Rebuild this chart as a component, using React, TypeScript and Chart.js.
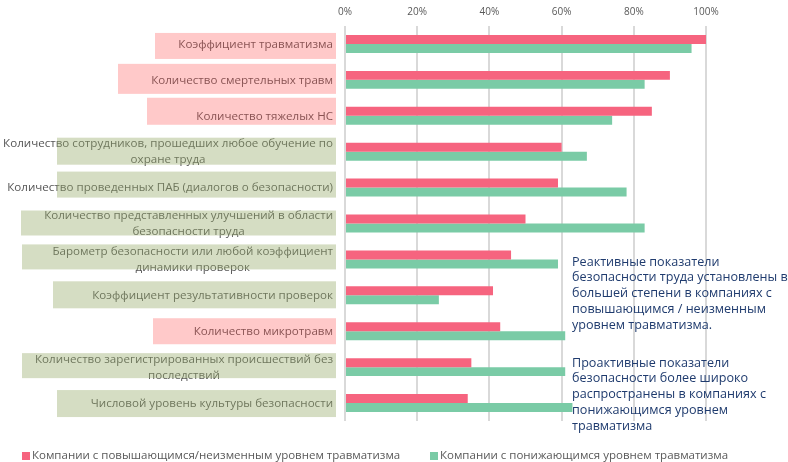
import React, { useEffect, useRef } from "react";
import { Chart, registerables } from "chart.js";

Chart.register(...registerables);

const categories: string[][] = [
  ["Коэффициент травматизма"],
  ["Количество смертельных травм"],
  ["Количество тяжелых НС"],
  ["Количество сотрудников, прошедших любое обучение по", "охране труда"],
  ["Количество проведенных ПАБ (диалогов о безопасности)"],
  ["Количество представленных улучшений в области", "безопасности труда"],
  ["Барометр безопасности или любой коэффициент", "динамики проверок"],
  ["Коэффициент результативности проверок"],
  ["Количество микротравм"],
  ["Количество зарегистрированных происшествий без", "последствий"],
  ["Числовой уровень культуры безопасности"],
];

// "reactive" (pink) vs "proactive" (green) indicator groups
const categoryGroup: string[] = [
  "reactive", "reactive", "reactive", "proactive", "proactive", "proactive",
  "proactive", "proactive", "reactive", "proactive", "proactive",
];

const seriesNames: string[] = [
  "Компании с повышающимся/неизменным уровнем травматизма",
  "Компании с понижающимся уровнем травматизма",
];

const increasingValues: number[] = [100, 90, 85, 60, 59, 50, 46, 41, 43, 35, 34];
const decreasingValues: number[] = [96, 83, 74, 67, 78, 83, 59, 26, 61, 61, 63];

const xTicks: number[] = [0, 20, 40, 60, 80, 100];

const noteReactive: string[] = [
  "Реактивные показатели",
  "безопасности труда установлены в",
  "большей степени в компаниях с",
  "повышающимся / неизменным",
  "уровнем травматизма.",
];
const noteProactive: string[] = [
  "Проактивные показатели",
  "безопасности более широко",
  "распространены в компаниях с",
  "понижающимся уровнем",
  "травматизма",
];

// styling: label box [left edge, top offset from row centre, height]
const labelBoxStyle: number[][] = [
  [155, -11, 26], [118, -16, 30], [147, -18, 27], [57, -14, 27],
  [57, -16, 26], [21, -13, 25], [22, -15, 25], [53, -14, 27],
  [153, -13, 26], [22, -14, 25], [57, -13, 27],
];

const RED = "#F6647F";
const GREEN = "#7ACBA6";
const FONT = "'Open Sans', 'Noto Sans', sans-serif";

const overlayPlugin = {
  id: "overlayPlugin",
  afterDraw(chart: any) {
    const ctx = chart.ctx as CanvasRenderingContext2D;
    const y = chart.scales.y;
    ctx.save();
    // category labels with translucent boxes on top
    ctx.font = `11.6px ${FONT}`;
    ctx.textBaseline = "middle";
    ctx.textAlign = "center";
    const rightEdge = 333;
    categories.forEach((lines, i) => {
      const c = y.getPixelForValue(i);
      const w = Math.max(...lines.map((l) => ctx.measureText(l).width));
      const cx = rightEdge - w / 2;
      const lh = 16;
      const start = c + 0.5 - ((lines.length - 1) * lh) / 2;
      ctx.fillStyle = "#555555";
      lines.forEach((l, k) => ctx.fillText(l, cx, start + k * lh));
      const [bl, bt, bh] = labelBoxStyle[i];
      ctx.fillStyle =
        categoryGroup[i] === "reactive"
          ? "rgba(255,80,80,0.31)"
          : "rgba(150,170,105,0.4)";
      ctx.fillRect(bl, c + bt, 336 - bl, bh);
    });

    // notes
    ctx.font = `12.6px ${FONT}`;
    ctx.textAlign = "left";
    ctx.fillStyle = "#1F3B6E";
    noteReactive.forEach((l, k) => ctx.fillText(l, 572, 262 + k * 15.9));
    noteProactive.forEach((l, k) => ctx.fillText(l, 572, 363 + k * 15.9));

    // legend
    ctx.font = `11.5px ${FONT}`;
    const legendX = [22, 430];
    const colors = [RED, GREEN];
    seriesNames.forEach((n, k) => {
      ctx.fillStyle = colors[k];
      ctx.fillRect(legendX[k], 452, 8, 8);
      ctx.fillStyle = "#595959";
      ctx.fillText(n, legendX[k] + 10, 456);
    });
    ctx.restore();
  },
};

export default function App() {
  const ref = useRef<HTMLCanvasElement | null>(null);
  useEffect(() => {
    if (!ref.current) return;
    const chart = new Chart(ref.current, {
      type: "bar",
      data: {
        labels: categories.map((c) => c.join(" ")),
        datasets: [
          {
            label: seriesNames[0],
            data: increasingValues,
            backgroundColor: RED,
            borderWidth: 0,
          },
          {
            label: seriesNames[1],
            data: decreasingValues,
            backgroundColor: GREEN,
            borderWidth: 0,
          },
        ],
      },
      options: {
        indexAxis: "y",
        responsive: false,
        animation: false,
        layout: { padding: { left: 345, right: 82, top: 0, bottom: 41 } },
        datasets: { bar: { categoryPercentage: 0.5, barPercentage: 1 } },
        plugins: {
          legend: { display: false },
          tooltip: { enabled: false },
        },
        scales: {
          y: { display: false },
          x: {
            position: "top",
            min: 0,
            max: 100,
            afterBuildTicks: (scale: any) => {
              scale.ticks = xTicks.map((v) => ({ value: v }));
            },
            afterFit: (scale: any) => {
              scale.height = 26;
            },
            border: { display: false },
            grid: { color: "#D9D9D9", lineWidth: 2, drawTicks: false },
            ticks: {
              padding: 8,
              color: "#595959",
              font: { size: 10, family: FONT },
              callback: (v: any) => v + "%",
            },
          },
        },
      },
      plugins: [overlayPlugin],
    } as any);
    return () => chart.destroy();
  }, []);
  return (
    <div style={{ position: "absolute", left: 0, top: 0, width: 788, height: 462, background: "#fff" }}>
      <canvas ref={ref} width={788} height={462} style={{ display: "block" }} />
    </div>
  );
}
